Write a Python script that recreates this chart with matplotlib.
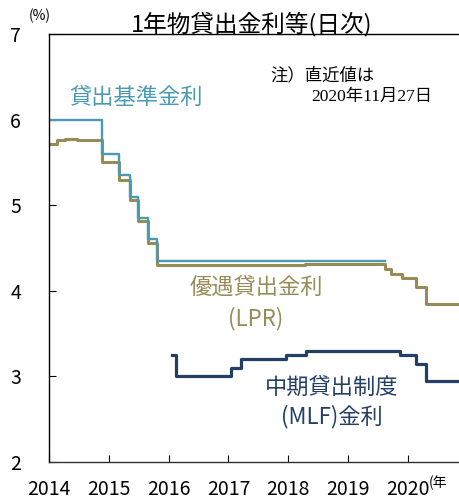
import matplotlib
matplotlib.use("Agg")
import matplotlib.pyplot as plt

plt.rcParams['font.family'] = ['Noto Sans CJK JP', 'DejaVu Sans']

# Benchmark lending rate (step change dates in decimal years, values after change)
bench_t = [2014.0, 2014.89, 2015.17, 2015.36, 2015.49, 2015.65, 2015.81, 2019.62]
bench_v = [6.00, 5.60, 5.35, 5.10, 4.85, 4.60, 4.35, 4.35]

# Loan prime rate
lpr_t = [2014.0, 2014.13, 2014.27, 2014.46, 2014.89, 2015.17, 2015.36, 2015.49,
         2015.65, 2015.81, 2018.28, 2019.62, 2019.72, 2019.90, 2020.14, 2020.30, 2020.90]
lpr_v = [5.72, 5.76, 5.77, 5.76, 5.51, 5.30, 5.06, 4.81,
         4.56, 4.30, 4.31, 4.25, 4.20, 4.15, 4.05, 3.85, 3.85]

# Medium-term lending facility rate
mlf_t = [2016.06, 2016.13, 2017.05, 2017.21, 2017.96, 2018.30, 2019.86, 2020.14, 2020.31, 2020.90]
mlf_v = [3.25, 3.00, 3.10, 3.20, 3.25, 3.30, 3.25, 3.15, 2.95, 2.95]

years = [2014, 2015, 2016, 2017, 2018, 2019, 2020]
yticks = [2, 3, 4, 5, 6, 7]

c_bench = '#4a9bb2'
c_lpr = '#978c58'
c_mlf = '#233f62'

fig = plt.figure(figsize=(4.6, 5.0), dpi=100)
ax = fig.add_axes([0.1065, 0.076, 0.8935, 0.856])

ax.step(lpr_t, lpr_v, where='post', color=c_lpr, lw=2.2)
ax.step(bench_t, bench_v, where='post', color=c_bench, lw=1.7)
ax.step(mlf_t, mlf_v, where='post', color=c_mlf, lw=2.3)

ax.set_xlim(2014, 2020.87)
ax.set_ylim(2, 7)
ax.set_xticks(years)
ax.set_xticklabels([str(y) for y in years])
ax.set_yticks(yticks)
ax.tick_params(axis='both', direction='in', length=5, width=0.8, labelsize=14)
ax.tick_params(axis='y', pad=20)
ax.tick_params(axis='x', pad=12)
ax.spines['right'].set_visible(False)
for s in ['left', 'bottom', 'top']:
    ax.spines[s].set_linewidth(1.0)
ax.spines['bottom'].set_color('#333333')

fig.text(0.546, 0.952, '1年物貸出金利等(日次)', ha='center', va='center', fontsize=17)
fig.text(0.087, 0.968, '(%)', ha='center', va='center', fontsize=10)
fig.text(0.932, 0.034, '(年', ha='left', va='center', fontsize=10)

ax.text(2015.45, 6.26, '貸出基準金利', color=c_bench, fontsize=16, ha='center', va='center')
ax.text(2017.46, 4.03, '優遇貸出金利', color=c_lpr, fontsize=16, ha='center', va='center')
ax.text(2017.46, 3.68, '(LPR)', color=c_lpr, fontsize=16, ha='center', va='center')
ax.text(2018.73, 2.86, '中期貸出制度', color=c_mlf, fontsize=16, ha='center', va='center')
ax.text(2018.73, 2.53, '(MLF)金利', color=c_mlf, fontsize=16, ha='center', va='center')

serif = ['Liberation Serif', 'Noto Sans CJK JP']
ax.text(2017.70, 6.51, '注）直近値は', fontsize=12.5, ha='left', va='center', family=serif)
ax.text(2018.38, 6.26, '2020年11月27日', fontsize=12.5, ha='left', va='center', family=serif)

fig.savefig('out.png', dpi=100)
